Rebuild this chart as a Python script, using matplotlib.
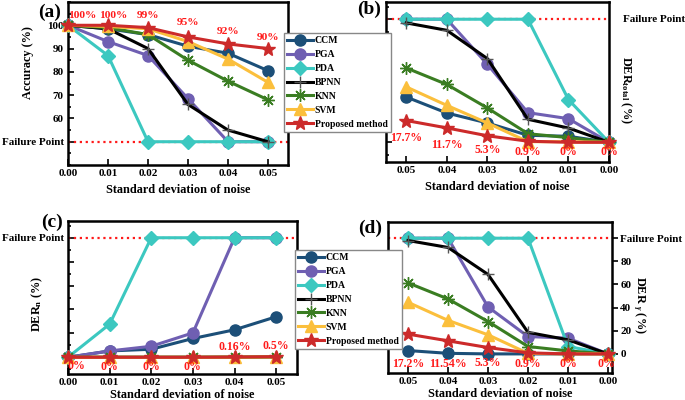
import matplotlib
matplotlib.use("Agg")
import matplotlib.pyplot as plt
from matplotlib.ticker import MultipleLocator, FixedLocator

plt.rcParams['font.family'] = ['Liberation Serif', 'DejaVu Serif']
plt.rcParams['font.weight'] = 'bold'
plt.rcParams['axes.labelweight'] = 'bold'
plt.rcParams['mathtext.fontset'] = 'custom'
plt.rcParams['mathtext.rm'] = 'Liberation Serif:bold'
plt.rcParams['mathtext.bf'] = 'Liberation Serif:bold'
plt.rcParams['mathtext.it'] = 'Liberation Serif:bold:italic'

noise = [0.00, 0.01, 0.02, 0.03, 0.04, 0.05]
methods = ['CCM', 'PGA', 'PDA', 'BPNN', 'KNN', 'SVM', 'Proposed method']

# (a) accuracy
acc_ccm = [100, 98.5, 96, 91, 88, 80.5]
acc_pga = [100, 93, 87, 68.5, 50, 50]
acc_pda = [100, 87, 50, 50, 50, 50]
acc_bpnn = [100, 98.5, 90, 66, 55, 50]
acc_knn = [100, 99, 96, 85, 76, 68]
acc_svm = [100, 99.5, 98.5, 93, 85.5, 75.5]
acc_prop = [100, 100, 99, 95, 92, 90]
acc_labels = ['100%', '100%', '99%', '95%', '92%', '90%']

# (b) DER total
dt_ccm = [0, 4.9, 5.7, 15.7, 23.8, 36.8]
dt_pga = [0, 19.2, 24.1, 63.4, 100, 100]
dt_pda = [0, 34.7, 100, 100, 100, 100]
dt_bpnn = [0, 11.6, 18.7, 68, 91, 97]
dt_knn = [0, 3.8, 7, 27.9, 47, 60.4]
dt_svm = [0, 0.5, 0.5, 15.7, 30, 45]
dt_prop = [0, 0, 0.9, 5.3, 11.7, 17.7]
dt_labels = ['0%', '0%', '0.9%', '5.3%', '11.7%', '17.7%']

# (c) DER n
dn_ccm = [0, 5.3, 6.7, 15.7, 23, 33.9]
dn_pga = [0, 5.3, 9.2, 20.4, 100, 100]
dn_pda = [0, 27.7, 100, 100, 100, 100]
dn_bpnn = [0, 0, 0, 0, 0.1, 0.3]
dn_knn = [0, 0, 0, 0, 0.1, 0.4]
dn_svm = [0, 0, 0, 0, 0.1, 0.3]
dn_prop = [0, 0, 0, 0, 0.16, 0.5]
dn_labels = ['0%', '0%', '0%', '0%', '0.16%', '0.5%']

# (d) DER gamma
dg_ccm = [0, 0, 0, 0, 0.5, 2.9]
dg_pga = [0, 13.6, 15, 40.6, 100, 100]
dg_pda = [0, 6.4, 100, 100, 100, 100]
dg_bpnn = [0, 12.2, 18.6, 68.7, 92, 98]
dg_knn = [0, 2.6, 6.4, 28, 47.5, 61.4]
dg_svm = [0, 0, 0.5, 16.5, 29, 44.6]
dg_prop = [0, 0, 0.9, 5.5, 11.3, 17.1]
dg_labels = ['0%', '0%', '0.9%', '5.3%', '11.54%', '17.2%']

colors = ['#1c4f78', '#6f5fb2', '#3cc8c0', '#000000', '#3a7d22', '#fbbf3c', '#cc2a2a']
markers = ['o', 'o', 'D', '+', (8, 2, 0), '^', '*']
msizes = [8, 8, 7, 9, 9, 8, 10]

fig = plt.figure(figsize=(6.85, 4.0), dpi=100)
W, H = 685.0, 400.0


def add_ax(l, t, r, b):
    return fig.add_axes([l / W, 1 - b / H, (r - l) / W, (b - t) / H])


ax_a = add_ax(68, 2, 288, 165)
ax_b = add_ax(386, 2, 609, 162)
ax_c = add_ax(68, 221, 297, 374)
ax_d = add_ax(388, 222, 612, 373)


def draw_lines(ax, series):
    handles = []
    for i, ys in enumerate(series):
        h, = ax.plot(noise, ys, color=colors[i], lw=2.2, marker=markers[i],
                     ms=msizes[i], mfc=colors[i], mec=colors[i] if i != 3 else '#555555',
                     mew=1.0, clip_on=False, zorder=3 + i, label=methods[i])
        handles.append(h)
    return handles


def style(ax):
    for s in ax.spines.values():
        s.set_linewidth(1.8)
    ax.tick_params(axis='both', which='both', direction='in', labelsize=8, width=1.2, pad=3)
    ax.tick_params(axis='both', which='major', length=4)
    ax.tick_params(axis='both', which='minor', length=2)
    ax.set_xticks(noise)
    ax.set_xticklabels(['%.2f' % v for v in noise])
    ax.set_xlabel('Standard deviation of noise', fontsize=8.8, labelpad=4)


red = '#ff1a1a'
lab_fs = 8.5

# (a)
handles = draw_lines(ax_a, [acc_ccm, acc_pga, acc_pda, acc_bpnn, acc_knn, acc_svm, acc_prop])
ax_a.axhline(50, color=red, ls=':', lw=1.6, zorder=2)
ax_a.set_xlim(0, 0.055)
ax_a.set_ylim(40, 110)
style(ax_a)
ax_a.set_yticks([50, 60, 70, 80, 90, 100])
ax_a.set_yticklabels(['Failure Point', '60', '70', '80', '90', '100'])
ax_a.yaxis.set_minor_locator(MultipleLocator(5))
ax_a.set_ylabel('Accuracy (%)', fontsize=8.8)
ax_a.yaxis.set_label_coords(-0.155, 0.63)
acc_txt_x = [0.0035, 0.0113, 0.02, 0.03, 0.04, 0.05]
acc_txt_y = [104, 104, 104, 101, 97.5, 94.8]
for x, y, s in zip(acc_txt_x, acc_txt_y, acc_labels):
    ax_a.text(x, y, s, color=red, fontsize=8.2, ha='center', va='center', zorder=20)

# (b)
draw_lines(ax_b, [dt_ccm, dt_pga, dt_pda, dt_bpnn, dt_knn, dt_svm, dt_prop])
ax_b.axhline(100, color=red, ls=':', lw=1.6, zorder=2)
ax_b.set_xlim(0.055, 0.0)
ax_b.set_ylim(-16, 114)
style(ax_b)
ax_b.yaxis.set_major_locator(FixedLocator([0, 20, 40, 60, 80, 100]))
ax_b.yaxis.set_minor_locator(MultipleLocator(10))
ax_b.set_yticklabels([])
ax_b.yaxis.set_label_position('right')
ax_b.set_ylabel('DER$_{\\mathrm{total}}$ (%)', fontsize=8.8, rotation=270)
ax_b.yaxis.set_label_coords(1.11, 0.45)
ax_b.text(1.2, 100, 'Failure Point', transform=ax_b.get_yaxis_transform(),
          fontsize=8, ha='center', va='center')
dt_txt_y = [-8, -8, -8, -6, -2.5, 3.2]
for x, y, s in zip(noise, dt_txt_y, dt_labels):
    ax_b.text(x, y, s, color=red, fontsize=lab_fs, ha='center', va='center', zorder=20)

# (c)
draw_lines(ax_c, [dn_ccm, dn_pga, dn_pda, dn_bpnn, dn_knn, dn_svm, dn_prop])
ax_c.axhline(100, color=red, ls=':', lw=1.6, zorder=2)
ax_c.set_xlim(0, 0.055)
ax_c.set_ylim(-14, 114)
style(ax_c)
ax_c.xaxis.labelpad = 1
ax_c.yaxis.set_major_locator(FixedLocator([0, 20, 40, 60, 80, 100]))
ax_c.yaxis.set_minor_locator(MultipleLocator(10))
ax_c.set_yticklabels(['', '', '', '', '', 'Failure Point'])
ax_c.set_ylabel('DER$_{\\mathrm{n}}$ (%)', fontsize=8.8)
ax_c.yaxis.set_label_coords(-0.1, 0.46)
dn_txt_x = [0.002, 0.01, 0.02, 0.03, 0.04, 0.05]
dn_txt_y = [-7.5, -8.5, -8.5, -8.5, 8.7, 9.5]
for x, y, s in zip(dn_txt_x, dn_txt_y, dn_labels):
    ax_c.text(x, y, s, color=red, fontsize=lab_fs, ha='center', va='center', zorder=20)

# (d)
draw_lines(ax_d, [dg_ccm, dg_pga, dg_pda, dg_bpnn, dg_knn, dg_svm, dg_prop])
ax_d.axhline(100, color=red, ls=':', lw=1.6, zorder=2)
ax_d.set_xlim(0.055, -0.001)
ax_d.set_ylim(-16.5, 114)
style(ax_d)
ax_d.xaxis.labelpad = 1
ax_d.yaxis.tick_right()
ax_d.yaxis.set_major_locator(FixedLocator([0, 20, 40, 60, 80, 100]))
ax_d.set_yticklabels(['0', '20', '40', '60', '80', 'Failure Point'])
ax_d.tick_params(axis='y', direction='out', pad=2)
ax_d.yaxis.set_label_position('right')
ax_d.set_ylabel('DER $_{\\gamma}$ (%)', fontsize=8.8, rotation=270)
ax_d.yaxis.set_label_coords(1.16, 0.45)
dg_txt_x = [0.0005, 0.01, 0.02, 0.03, 0.04, 0.05]
dg_txt_y = [-8.5, -8.5, -8.5, -8, -9, -9]
for x, y, s in zip(dg_txt_x, dg_txt_y, dg_labels):
    ax_d.text(x, y, s, color=red, fontsize=lab_fs, ha='center', va='center', zorder=20)

# legends
for lx, ly in [(284, 33), (295, 250)]:
    leg = fig.legend(handles=handles, loc='upper left', bbox_to_anchor=(lx / W, 1 - ly / H),
                     borderaxespad=0, fontsize=7, handlelength=2.6, labelspacing=0.5,
                     handletextpad=0.2, borderpad=0.35, fancybox=False, framealpha=1,
                     edgecolor='#888888')
    leg.get_frame().set_linewidth(1.0)

# panel labels
for x, y, s in [(50, 12, '(a)'), (369, 9, '(b)'), (52, 222, '(c)'), (370, 228, '(d)')]:
    fig.text(x / W, 1 - y / H, s, fontsize=14, ha='center', va='center')

fig.savefig('out.png', dpi=100)
